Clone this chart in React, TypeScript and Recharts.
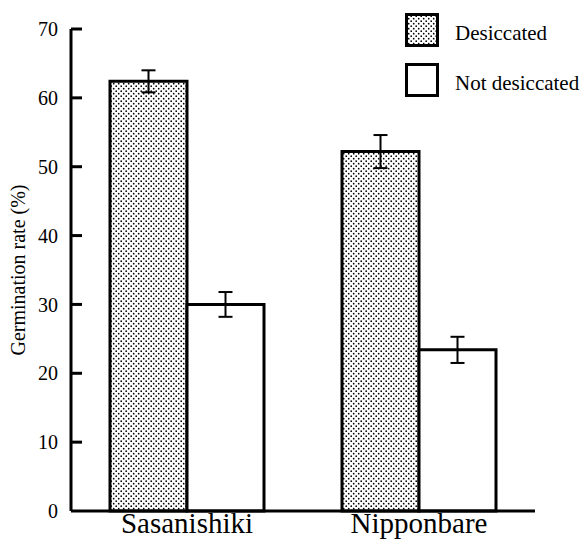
import { Bar, BarChart, ErrorBar, Legend, XAxis, YAxis, Label } from "recharts"

const varieties = ["Sasanishiki", "Nipponbare"]
const desiccated = [62.4, 52.2]
const desiccatedErr = [1.6, 2.4]
const notDesiccated = [30.0, 23.4]
const notDesiccatedErr = [1.8, 1.9]
const yTicks = [0, 10, 20, 30, 40, 50, 60, 70]

const data = varieties.map((v, i) => ({
  variety: v,
  des: desiccated[i],
  desErr: desiccatedErr[i],
  notDes: notDesiccated[i],
  notDesErr: notDesiccatedErr[i],
}))

const font = "Liberation Serif, serif"

function LegendBox() {
  return (
    <svg width={206} height={110}>
      <defs>
        <pattern id="dotsLegend" width="5" height="5" patternUnits="userSpaceOnUse">
          <rect width="5" height="5" fill="#fff" />
          <circle cx="1.2" cy="1.2" r="0.85" fill="#000" />
          <circle cx="3.7" cy="3.7" r="0.85" fill="#000" />
        </pattern>
      </defs>
      <rect x={26.5} y={14.5} width={31} height={31} fill="url(#dotsLegend)" stroke="#000" strokeWidth={3} />
      <text x={75} y={40} fontSize={21} fill="#000" fontFamily={font}>Desiccated</text>
      <rect x={26.5} y={64.5} width={31} height={31} fill="#fff" stroke="#000" strokeWidth={3} />
      <text x={75} y={90} fontSize={21} fill="#000" fontFamily={font}>Not desiccated</text>
    </svg>
  )
}

// y tick: label left of the axis, short tick mark pointing into the plot
function YTick(props: any) {
  const { x, y, payload } = props
  const axisX = x + 13
  return (
    <g>
      {payload.value > 0 && (
        <path d={`M${axisX},${y}H${axisX + 11}`} stroke="#000" strokeWidth={3} fill="none" />
      )}
      <text x={x} y={y} dy="0.355em" textAnchor="end" fontSize={20} fill="#000" fontFamily={font}>
        {payload.value}
      </text>
    </g>
  )
}

export default function App() {
  return (
    <div style={{ position: "absolute", left: 0, top: 0, background: "#fff", fontFamily: font }}>
      <BarChart
        width={586}
        height={553}
        data={data}
        margin={{ top: 29, right: 51, bottom: 0, left: 0 }}
        barGap={0}
        barSize={77}
      >
        <defs>
          <pattern id="dots" width="5" height="5" patternUnits="userSpaceOnUse">
            <rect width="5" height="5" fill="#fff" />
            <circle cx="1.2" cy="1.2" r="0.85" fill="#000" />
            <circle cx="3.7" cy="3.7" r="0.85" fill="#000" />
          </pattern>
        </defs>
        <XAxis
          dataKey="variety"
          height={42}
          tickLine={false}
          tickSize={0}
          tickMargin={1}
          axisLine={{ stroke: "#000", strokeWidth: 3 }}
          tick={{ fill: "#000", fontSize: 29, fontFamily: font }}
        />
        <YAxis
          width={71}
          domain={[0, 70]}
          ticks={yTicks}
          interval={0}
          tickSize={8}
          tickMargin={5}
          axisLine={{ stroke: "#000", strokeWidth: 3 }}
          tickLine={false}
          tick={(p: any) => <YTick {...p} />}
        >
          <Label
            value="Germination rate (%)"
            angle={-90}
            position="insideLeft"
            dx={13}
            dy={0}
            style={{ textAnchor: "middle", fill: "#000", fontSize: 20, fontFamily: font }}
          />
        </YAxis>
        <Legend
          layout="vertical"
          align="center"
          verticalAlign="middle"
          wrapperStyle={{ top: 0, left: 380, width: 206, height: 110 }}
          content={() => <LegendBox />}
        />
        <Bar dataKey="des" fill="url(#dots)" stroke="#000" strokeWidth={3} isAnimationActive={false}>
          <ErrorBar dataKey="desErr" width={7} stroke="#000" strokeWidth={2} />
        </Bar>
        <Bar dataKey="notDes" fill="#fff" stroke="#000" strokeWidth={3} isAnimationActive={false}>
          <ErrorBar dataKey="notDesErr" width={7} stroke="#000" strokeWidth={2} />
        </Bar>
      </BarChart>
    </div>
  )
}
